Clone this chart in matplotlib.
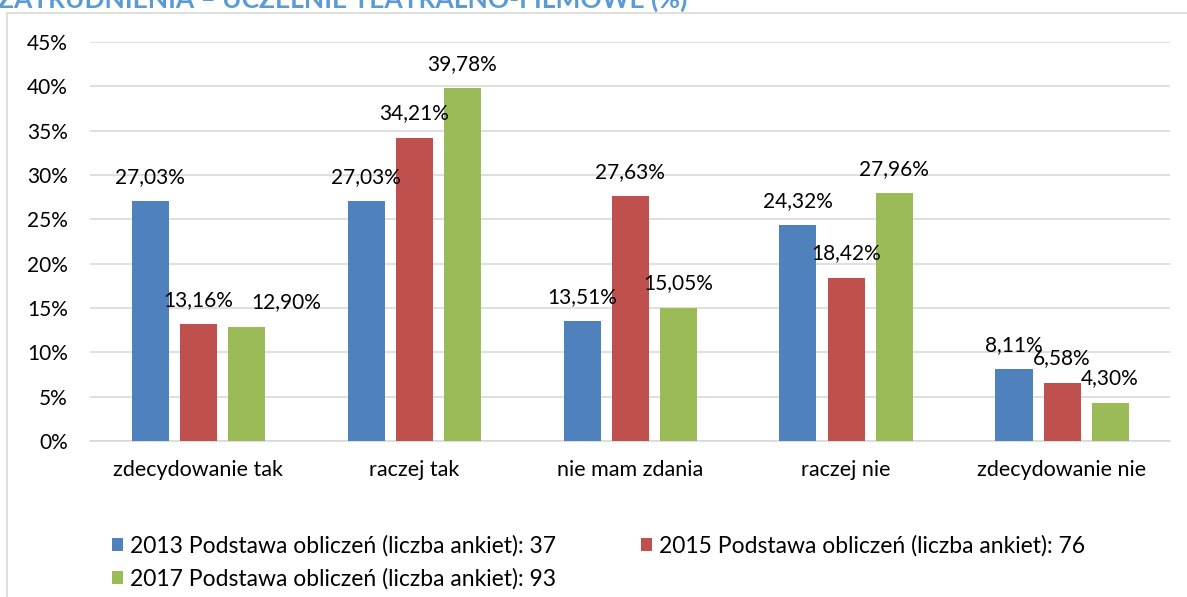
import matplotlib
matplotlib.use("Agg")
import matplotlib.pyplot as plt
from matplotlib.patches import Rectangle
import numpy as np

categories = ["zdecydowanie tak", "raczej tak", "nie mam zdania", "raczej nie", "zdecydowanie nie"]
series_names = ["2013 Podstawa obliczeń (liczba ankiet): 37",
                "2015 Podstawa obliczeń (liczba ankiet): 76",
                "2017 Podstawa obliczeń (liczba ankiet): 93"]
v2013 = [27.03, 27.03, 13.51, 24.32, 8.11]
v2015 = [13.16, 34.21, 27.63, 18.42, 6.58]
v2017 = [12.90, 39.78, 15.05, 27.96, 4.30]
yticks = [0, 5, 10, 15, 20, 25, 30, 35, 40, 45]
title = "ZATRUDNIENIA – UCZELNIE TEATRALNO-FILMOWE (%)"

colors = ["#4F81BD", "#C0504D", "#9BBB59"]
W, H = 1187, 597
fig = plt.figure(figsize=(W/100, H/100), dpi=100)
fig.patch.set_facecolor("white")
plt.rcParams['font.family'] = ['Lato', 'DejaVu Sans']

# chart border
fig.patches.append(Rectangle((7/W, -0.1), 1.2, (H-13)/H + 0.1, transform=fig.transFigure,
                             fill=False, edgecolor="#D9D9D9", linewidth=1.2))
fig.text(-2/W, 1 - 8/H, title, color="#5B9BD5", fontsize=19, fontweight="bold",
         va="baseline", ha="left")

ax = fig.add_axes([90/W, (H-441)/H, 1080/W, 399/H])
x = np.arange(len(categories))
bw = 37/216
step = 48/216
handles = []
# label nudges (series index, category index) -> x offset in points
nudge = {(2, 0): 29}
for i, (vals, c) in enumerate(zip([v2013, v2015, v2017], colors)):
    pos = x + (i-1)*step
    bars = ax.bar(pos, vals, width=bw, color=c, label=series_names[i], zorder=3)
    handles.append(bars)
    for j, (p, v) in enumerate(zip(pos, vals)):
        ax.annotate(f"{v:.2f}%".replace(".", ","), (p, v), xytext=(nudge.get((i, j), 0), 17.5),
                    textcoords="offset points", ha="center", va="center",
                    fontsize=15, color="#000000", zorder=4)

ax.set_xlim(-0.5, len(categories)-0.5)
ax.set_ylim(0, 45)
ax.set_yticks(yticks)
ax.set_yticklabels([f"{t}%" for t in yticks], fontsize=15)
ax.set_xticks(x)
ax.set_xticklabels(categories, fontsize=15.5)
ax.tick_params(axis="both", length=0)
ax.tick_params(axis="x", pad=14)
ax.tick_params(axis="y", pad=16)
ax.grid(axis="y", color="#D9D9D9", linewidth=1.2, zorder=0)
for s in ["top", "right", "left"]:
    ax.spines[s].set_visible(False)
ax.spines["bottom"].set_color("#D9D9D9")
ax.spines["bottom"].set_linewidth(1.2)

order = [0, 2, 1]
leg = fig.legend([handles[k] for k in order], [series_names[k] for k in order],
                 loc="upper left", bbox_to_anchor=(112/W, 1 - 535/H),
                 ncol=2, frameon=False, fontsize=16.5, handlelength=0.48, handleheight=0.48,
                 handletextpad=0.3, columnspacing=3.7, labelspacing=0.5,
                 borderpad=0, borderaxespad=0)

fig.savefig("out.png", dpi=100)
